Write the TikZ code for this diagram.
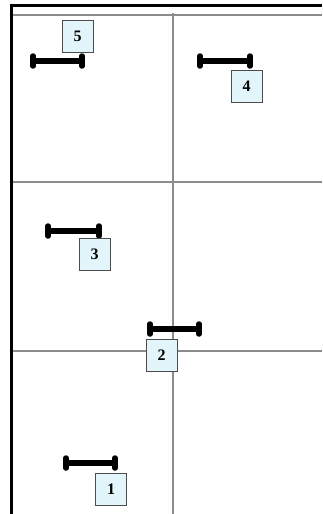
\documentclass[tikz,border=0pt]{standalone}
\usepackage{fontspec}
\setmainfont{Liberation Serif}
\definecolor{tagfill}{HTML}{E2F5FA}
\definecolor{gridgray}{HTML}{8C8C8C}

\begin{document}
\begin{tikzpicture}[
    x=1pt, y=-1pt,
    tag/.style={
      draw=black!70,
      fill=tagfill,
      minimum width=31pt,
      minimum height=32pt,
      inner sep=0pt,
      font=\fontsize{16}{16}\selectfont\bfseries
    },
    beam/.style={line width=6pt},
    beam end/.style={line width=5.5pt, line cap=round},
    grid line/.style={gridgray, line width=1.2pt},
    frame/.style={black, line width=3pt}
  ]
    \useasboundingbox (0,0) rectangle (322,514);
    % frame and grid
    \draw[grid line] (13,15) -- (322,15);
    \draw[grid line] (173,13) -- (173,514);
    \draw[grid line] (13,182) -- (322,182);
    \draw[grid line] (13,351) -- (322,351);
    \draw[frame] (10,5) -- (322,5);
    \draw[frame] (11,4) -- (11,514);
    % beams
    \coordinate (b5l) at (33,61);  \coordinate (b5r) at (82,61);
    \coordinate (b4l) at (200,61); \coordinate (b4r) at (250,61);
    \coordinate (b3l) at (48,231); \coordinate (b3r) at (99,231);
    \coordinate (b2l) at (150,329); \coordinate (b2r) at (199,329);
    \coordinate (b1l) at (66,463); \coordinate (b1r) at (115,463);
    \foreach \b in {b1,b2,b3,b4,b5} {
      \draw[beam] (\b l) -- (\b r);
      \draw[beam end] ([yshift=-5pt]\b l) -- ([yshift=5pt]\b l);
      \draw[beam end] ([yshift=-5pt]\b r) -- ([yshift=5pt]\b r);
    }
    % tags
    \node[tag] (t5) at (77.5,36) {5};
    \node[tag] (t4) at (246.5,86) {4};
    \node[tag] (t3) at (94.5,254) {3};
    \node[tag] (t2) at (161.5,355) {2};
    \node[tag] (t1) at (111,489) {1};
  \end{tikzpicture}
\end{document}
